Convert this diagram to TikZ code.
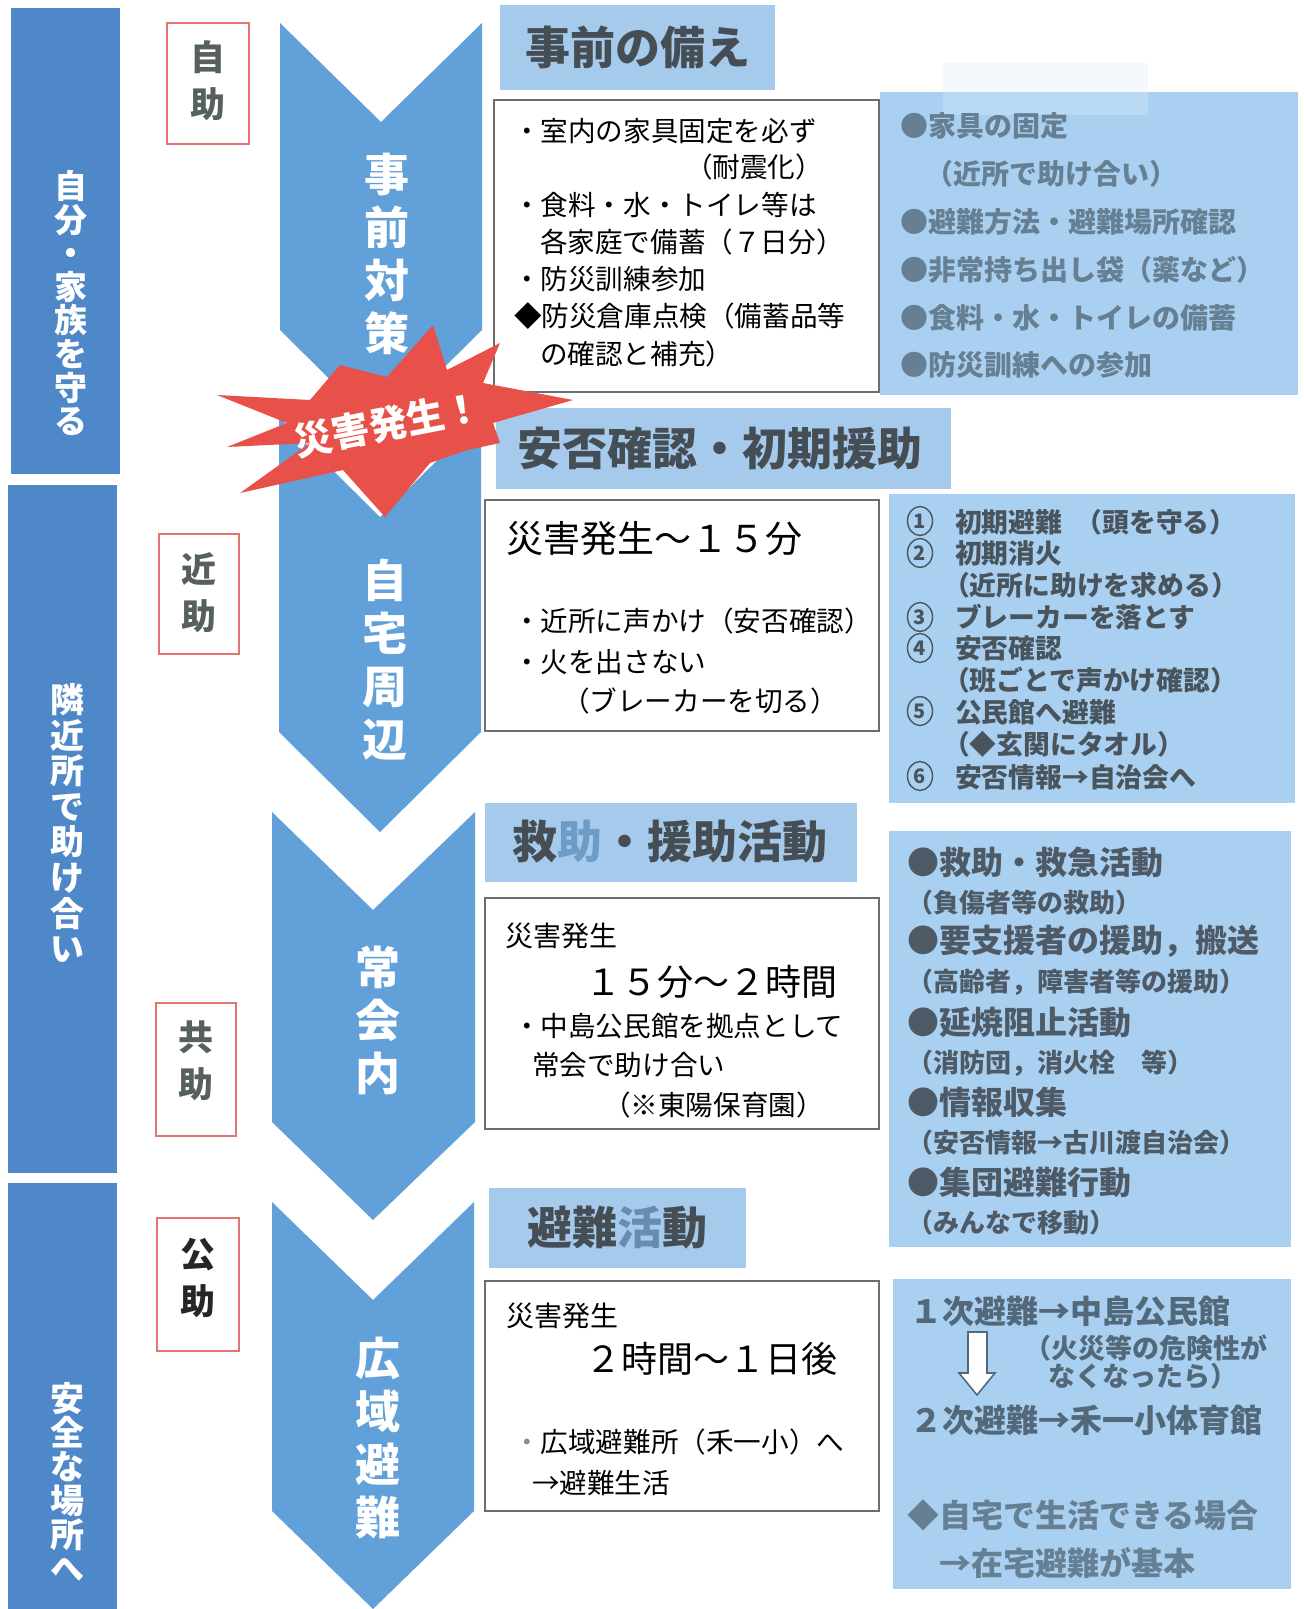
\documentclass[tikz,border=0pt]{standalone}
\usepackage{fontspec}
\setmainfont{Noto Sans CJK JP}
\usetikzlibrary{shapes.geometric}
\definecolor{barblue}{HTML}{4F88C8}
\definecolor{chevblue}{HTML}{62A0DA}
\definecolor{hdrblue}{HTML}{A6CAEC}
\definecolor{rblue}{HTML}{A9D0F0}
\definecolor{hdrtext}{HTML}{464E55}
\definecolor{hdrlight}{HTML}{6E9CC8}
\definecolor{slateA}{HTML}{667F92}
\definecolor{slateB}{HTML}{4A545D}
\definecolor{slateC}{HTML}{4E5B67}
\definecolor{slateD}{HTML}{536879}
\definecolor{boxred}{HTML}{E27472}
\definecolor{starred}{HTML}{E8504A}
\definecolor{boxgray}{HTML}{6E6E6E}
\definecolor{redtext}{HTML}{56605C}
\newcommand\jfs[2]{\fontsize{#1pt}{#2pt}\selectfont}
\begin{document}
\begin{tikzpicture}[x=0.5pt,y=-0.5pt,
  every node/.style={inner sep=0pt,outer sep=0pt},
  barlbl/.style={align=center,text=white,font=\bfseries\jfs{16.5}{16.8}},
  redlbl/.style={align=center,text=redtext,font=\bfseries\jfs{17.5}{23.5}},
  redbox/.style={draw=boxred,line width=0.7pt,fill=white},
  chev/.style={fill=chevblue},
  chevlbl/.style={align=center,text=white,font=\bfseries\jfs{22.5}{26.5}},
  hdr/.style={fill=hdrblue},
  hdrlbl/.style={text=hdrtext,font=\bfseries\jfs{22.5}{22.5}},
  wbox/.style={draw=boxgray,line width=0.7pt,fill=white},
  rbox/.style={fill=rblue},
  body/.style={anchor=west,text=black,font=\jfs{13.8}{13.8}},
  big/.style={anchor=west,text=black,font=\jfs{18}{18}},
  mid/.style={anchor=west,text=black,font=\jfs{14}{14}},
  ra/.style={anchor=west,text=slateA,font=\bfseries\jfs{14}{14}},
  rb/.style={anchor=west,text=slateB,font=\bfseries\jfs{13.4}{13.4}},
  rbn/.style={ellipse,draw=slateB,line width=0.7pt,minimum width=12.5pt,minimum height=14.5pt,
              text=slateB,font=\bfseries\jfs{10}{10}},
  rcm/.style={anchor=west,text=slateC,font=\bfseries\jfs{16}{16}},
  rcs/.style={anchor=west,text=slateC,font=\bfseries\jfs{13}{13}},
  rdm/.style={anchor=west,text=slateD,font=\bfseries\jfs{16}{16}},
  rds/.style={anchor=west,text=slateD,font=\bfseries\jfs{13.5}{13.5}}]
\useasboundingbox (0,0) rectangle (1304,1609);
\fill[white] (0,0) rectangle (1304,1609);

% left bars
\fill[barblue] (11,8) rectangle (120,474);
\fill[barblue] (8,485) rectangle (117,1173);
\fill[barblue] (8,1183) rectangle (117,1609);
\node[barlbl] (bar1) at (71,303) {自\\分\\・\\家\\族\\を\\守\\る};
\node[barlbl,font=\bfseries\jfs{17}{17.8}] (bar2) at (67,823) {隣\\近\\所\\で\\助\\け\\合\\い};
\node[barlbl,font=\bfseries\jfs{17}{17}] (bar3) at (67,1482) {安\\全\\な\\場\\所\\へ};

% red-framed labels
\draw[redbox] (167,23) rectangle (249,144);
\node[redlbl] (jijo) at (208,81) {自\\助};
\draw[redbox] (159,534) rectangle (239,654);
\node[redlbl] (kinjo) at (199,593) {近\\助};
\draw[redbox] (156,1003) rectangle (236,1136);
\node[redlbl] (kyojo) at (196,1061) {共\\助};
\draw[redbox] (157,1218) rectangle (239,1351);
\node[redlbl,text=black!85] (kojo) at (198,1278) {公\\助};

% chevrons
\fill[chev] (280,23) -- (381,122) -- (482,23) -- (482,330) -- (381,430) -- (280,330) -- cycle;
\fill[chev] (279,417) -- (380,517) -- (481,417) -- (481,732) -- (380,832) -- (279,732) -- cycle;
\fill[chev] (272,812) -- (373,910) -- (475,812) -- (475,1122) -- (373,1220) -- (272,1122) -- cycle;
\fill[chev] (272,1202) -- (373,1300) -- (474,1202) -- (474,1511) -- (373,1609) -- (272,1511) -- cycle;
\node[chevlbl] (c1) at (387,254) {事\\前\\対\\策};
\node[chevlbl] (c2) at (385,660) {自\\宅\\周\\辺};
\node[chevlbl] (c3) at (378,1020) {常\\会\\内};
\node[chevlbl] (c4) at (378,1438) {広\\域\\避\\難};

% headers
\fill[hdr] (500,5) rectangle (775,90);
\fill[hdr] (496,408) rectangle (951,489);
\fill[hdr] (485,803) rectangle (857,882);
\fill[hdr] (489,1188) rectangle (746,1268);
\node[hdrlbl] (h1) at (638,47) {事前の備え};
\node[hdrlbl] (h2) at (720,448) {安否確認・初期援助};
\node[hdrlbl] (h3) at (670,842) {救{\color{hdrlight}助}・援助活動};
\node[hdrlbl] (h4) at (617,1228) {避難{\color{hdrlight!80!hdrtext}活}動};

% white boxes
\draw[wbox] (494,100) rectangle (879,392);
\draw[wbox] (485,500) rectangle (879,731);
\draw[wbox] (485,898) rectangle (879,1129);
\draw[wbox] (485,1281) rectangle (879,1511);

% right boxes
\fill[rblue!12] (943,63) rectangle (1148,92);
\fill[rbox] (880,92) rectangle (1298,395);
\fill[rblue!80!white] (943,92) rectangle (1148,115);
\fill[rbox] (889,494) rectangle (1295,803);
\fill[rbox] (889,831) rectangle (1291,1247);
\fill[rbox] (893,1279) rectangle (1291,1589);

% box 1 text
\node[body] (b1a) at (513,131) {・室内の家具固定を必ず};
\node[body] (b1b) at (685,167) {（耐震化）};
\node[body] (b1c) at (513,205) {・食料・水・トイレ等は};
\node[body] (b1d) at (540,242) {各家庭で備蓄（７日分）};
\node[body] (b1e) at (513,279) {・防災訓練参加};
\node[body] (b1f) at (514,316) {◆防災倉庫点検（備蓄品等};
\node[body] (b1g) at (540,354) {の確認と補充）};

% box 2 text
\node[big,font=\jfs{18.5}{18.5}] (b2a) at (506,539) {災害発生～１５分};
\node[body] (b2b) at (513,621) {・近所に声かけ（安否確認）};
\node[body] (b2c) at (513,662) {・火を出さない};
\node[body] (b2d) at (562,701) {（ブレーカーを切る）};

% box 3 text
\node[mid] (b3a) at (505,936) {災害発生};
\node[big] (b3b) at (585,982) {１５分～２時間};
\node[body] (b3c) at (513,1026) {・中島公民館を拠点として};
\node[body] (b3d) at (532,1065) {常会で助け合い};
\node[body] (b3e) at (603,1105) {（※東陽保育園）};

% box 4 text
\node[mid] (b4a) at (506,1316) {災害発生};
\node[big] (b4b) at (585,1359) {２時間～１日後};
\node[body] (b4c) at (513,1442) {{\color{black!45}・}広域避難所（禾一小）へ};
\node[body] (b4d) at (532,1483) {→避難生活};

% right box 1
\node[ra] (r1a) at (900,126) {●家具の固定};
\node[ra] (r1b) at (925,174) {（近所で助け合い）};
\node[ra] (r1c) at (900,222) {●避難方法・避難場所確認};
\node[ra] (r1d) at (900,270) {●非常持ち出し袋（薬など）};
\node[ra] (r1e) at (900,318) {●食料・水・トイレの備蓄};
\node[ra] (r1f) at (900,365) {●防災訓練への参加};

% right box 2
\node[rbn] (n1) at (920,521) {1};
\node[rbn] (n2) at (920,553) {2};
\node[rbn] (n3) at (920,617) {3};
\node[rbn] (n4) at (920,648) {4};
\node[rbn] (n5) at (920,711) {5};
\node[rbn] (n6) at (920,776) {6};
\node[rb] (r2a) at (955,522) {初期避難\hspace{0.5em}（頭を守る）};
\node[rb] (r2b) at (955,553) {初期消火};
\node[rb] (r2c) at (943,585) {（近所に助けを求める）};
\node[rb] (r2d) at (955,617) {ブレーカーを落とす};
\node[rb] (r2e) at (955,648) {安否確認};
\node[rb] (r2f) at (943,680) {（班ごとで声かけ確認）};
\node[rb] (r2g) at (955,712) {公民館へ避難};
\node[rb] (r2h) at (943,744) {（◆玄関にタオル）};
\node[rb] (r2i) at (955,777) {安否情報→自治会へ};

% right box 3
\node[rcm] (r3a) at (907,862) {●救助・救急活動};
\node[rcs] (r3b) at (907,903) {（負傷者等の救助）};
\node[rcm] (r3c) at (907,941) {●要支援者の援助，搬送};
\node[rcs] (r3d) at (907,982) {（高齢者，障害者等の援助）};
\node[rcm] (r3e) at (907,1022) {●延焼阻止活動};
\node[rcs] (r3f) at (907,1063) {（消防団，消火栓\hspace{1em}等）};
\node[rcm] (r3g) at (907,1102) {●情報収集};
\node[rcs] (r3h) at (907,1143) {（安否情報→古川渡自治会）};
\node[rcm] (r3i) at (907,1182) {●集団避難行動};
\node[rcs] (r3j) at (907,1223) {（みんなで移動）};

% right box 4
\node[rdm] (r4a) at (910,1311) {１次避難→中島公民館};
\draw[slateD,line width=0.8pt,fill=white] (968,1332) -- (987,1332) -- (987,1373) -- (995,1373) -- (977,1395) -- (959,1373) -- (968,1373) -- cycle;
\node[rds] (r4b) at (1024,1348) {（火災等の危険性が};
\node[rds] (r4c) at (1048,1376) {なくなったら）};
\node[rdm] (r4d) at (910,1420) {２次避難→禾一小体育館};
\node[rdm,text=slateA] (r4e) at (907,1515) {◆自宅で生活できる場合};
\node[rdm,text=slateA] (r4f) at (939,1563) {→在宅避難が基本};

% star burst
\fill[starred] (217,395) -- (310,400) -- (340,365) -- (387,377) -- (433,325) -- (447,370)
  -- (500,343) -- (483,383) -- (573,400) -- (493,423) -- (500,443) -- (467,450)
  -- (430,463) -- (385,517) -- (343,470) -- (240,493) -- (310,443) -- (227,447)
  -- (287,423) -- cycle;
\node[text=white,font=\bfseries\jfs{19}{19},rotate=11] (star) at (388,424) {災害発生！};
\end{tikzpicture}
\end{document}
